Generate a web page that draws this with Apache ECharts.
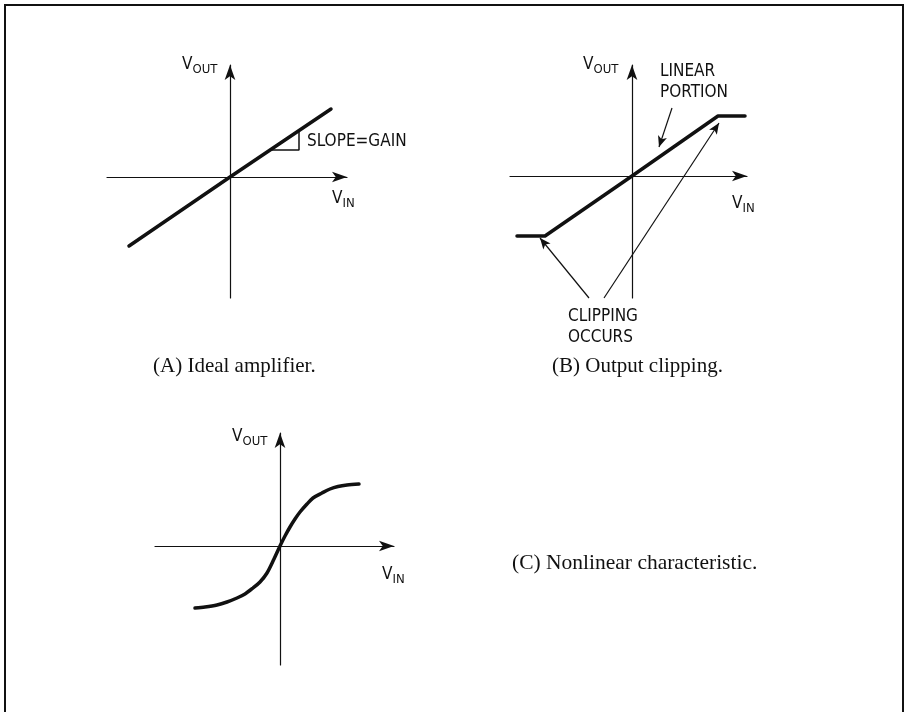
<!DOCTYPE html>
<html>
<head>
<meta charset="utf-8">
<title>Amplifier transfer characteristics</title>
<script src="https://cdn.jsdelivr.net/npm/echarts@6/dist/echarts.min.js"></script>
<style>
  html, body { margin: 0; padding: 0; background: #fff; }
  #main { width: 906px; height: 712px; }
</style>
</head>
<body>
<div id="main"></div>
<script>
// (A) ideal amplifier: straight line through the origin
var idealVin = [-10.1, 0, 10.1]
var idealVout = [-6.9, 0, 6.8]
// little slope triangle under the line
var slopeVin = [4.0, 6.9, 6.9]
var slopeVout = [2.7, 2.7, 4.66]

// (B) output clipping
var clipVin = [-11.5, -8.7, 0, 8.6, 11.3]
var clipVout = [-6.0, -6.0, 0, 6.0, 6.0]

// (C) nonlinear characteristic
var curveVin = [-8.5, -7.5, -6.3, -5.3, -4.3, -3.5, -2.7, -2.0, -1.3, -0.6, 0, 0.5, 1.0, 1.5, 2.0, 2.7, 3.3, 4.2, 5.0, 5.8, 6.7, 7.9]
var curveVout = [-6.2, -6.1, -5.9, -5.6, -5.2, -4.8, -4.2, -3.6, -2.7, -1.3, 0, 1.0, 1.9, 2.7, 3.4, 4.2, 4.8, 5.3, 5.7, 5.95, 6.1, 6.2]

// pointer arrows in (B), [from, to]
var linearArrow = [[4.0, 6.8], [2.7, 2.9]]
var clipArrowLow = [[-4.3, -12.2], [-9.2, -6.2]]
var clipArrowHigh = [[-2.8, -12.2], [8.7, 5.3]]

var SANS = '"Liberation Sans Narrow", "DejaVu Sans Condensed", "Liberation Sans", sans-serif'
var SERIF = '"Liberation Serif", "DejaVu Serif", serif'
var INK = '#111'

var PX = 10 // pixels per unit, same on every panel
var panels = [
  { ox: 230, oy: 177, xMin: -12.3, xMax: 11.7, yMin: -12.1, yMax: 11.2 },
  { ox: 632, oy: 176, xMin: -12.2, xMax: 11.5, yMin: -12.2, yMax: 11.1 },
  { ox: 280, oy: 546, xMin: -12.5, xMax: 11.4, yMin: -11.9, yMax: 11.3 }
]

function pairs(xs, ys) {
  return xs.map(function (x, i) { return [x, ys[i]] })
}

var grids = panels.map(function (p) {
  return {
    left: p.ox + p.xMin * PX,
    top: p.oy - p.yMax * PX,
    width: (p.xMax - p.xMin) * PX,
    height: (p.yMax - p.yMin) * PX,
    containLabel: false
  }
})

function axis(i, min, max) {
  return {
    type: 'value', gridIndex: i, min: min, max: max,
    axisLine: { show: true, onZero: true, symbol: ['none', 'arrow'], symbolSize: [8, 15],
      lineStyle: { color: INK, width: 1.2 } },
    axisTick: { show: false }, axisLabel: { show: false }, splitLine: { show: false }
  }
}

var curveStyle = { color: INK, width: 3.5, cap: 'round', join: 'round' }

function vLabel(x, y, sub) {
  return {
    type: 'text', x: x, y: y,
    style: {
      text: '{v|V}{s|' + sub + '}',
      fill: INK,
      rich: {
        v: { fontFamily: SANS, fontSize: 17, lineHeight: 17, verticalAlign: 'top', fill: INK },
        s: { fontFamily: SANS, fontSize: 13, lineHeight: 13, verticalAlign: 'top', padding: [7, 0, 0, 0], fill: INK }
      }
    }
  }
}

function note(x, y, text, font, size, align) {
  return {
    type: 'text', x: x, y: y,
    style: { text: text, fill: INK, fontFamily: font, fontSize: size, lineHeight: size + 4,
      align: align || 'left', verticalAlign: 'middle' }
  }
}

var myChart = echarts.init(document.getElementById('main'), null, { renderer: 'canvas' })

var option = {
  backgroundColor: '#fff',
  animation: false,
  grid: grids,
  xAxis: panels.map(function (p, i) { return axis(i, p.xMin, p.xMax) }),
  yAxis: panels.map(function (p, i) { return axis(i, p.yMin, p.yMax) }),
  series: [
    { type: 'line', xAxisIndex: 0, yAxisIndex: 0, data: pairs(idealVin, idealVout),
      symbol: 'none', lineStyle: curveStyle, silent: true },
    { type: 'line', xAxisIndex: 0, yAxisIndex: 0, data: pairs(slopeVin, slopeVout),
      symbol: 'none', lineStyle: { color: INK, width: 1.5 }, silent: true },
    { type: 'line', xAxisIndex: 1, yAxisIndex: 1, data: pairs(clipVin, clipVout),
      symbol: 'none', lineStyle: curveStyle, silent: true,
      markLine: {
        silent: true, animation: false,
        symbol: ['none', 'arrow'], symbolSize: [7, 11],
        label: { show: false },
        lineStyle: { color: INK, width: 1.2, type: 'solid' },
        data: [linearArrow, clipArrowLow, clipArrowHigh].map(function (a) {
          return [{ coord: a[0] }, { coord: a[1] }]
        })
      } },
    { type: 'line', xAxisIndex: 2, yAxisIndex: 2, data: pairs(curveVin, curveVout),
      symbol: 'none', smooth: 0.3, lineStyle: curveStyle, silent: true }
  ],
  graphic: [
    // frame around the figure, open at the bottom
    { type: 'polyline', shape: { points: [[5, 712], [5, 5], [903, 5], [903, 712]] },
      style: { stroke: INK, lineWidth: 2, fill: null } },

    vLabel(182, 56, 'OUT'),
    vLabel(332, 190, 'IN'),
    note(307, 142, 'SLOPE=GAIN', SANS, 17),
    note(153, 366, '(A) Ideal amplifier.', SERIF, 21),

    vLabel(583, 56, 'OUT'),
    vLabel(732, 195, 'IN'),
    note(660, 82, 'LINEAR\nPORTION', SANS, 17),
    note(568, 327, 'CLIPPING\nOCCURS', SANS, 17),
    note(552, 366, '(B) Output clipping.', SERIF, 21),

    vLabel(232, 428, 'OUT'),
    vLabel(382, 566, 'IN'),
    note(512, 563, '(C) Nonlinear characteristic.', SERIF, 21.5)
  ]
}

myChart.setOption(option)
</script>
</body>
</html>
